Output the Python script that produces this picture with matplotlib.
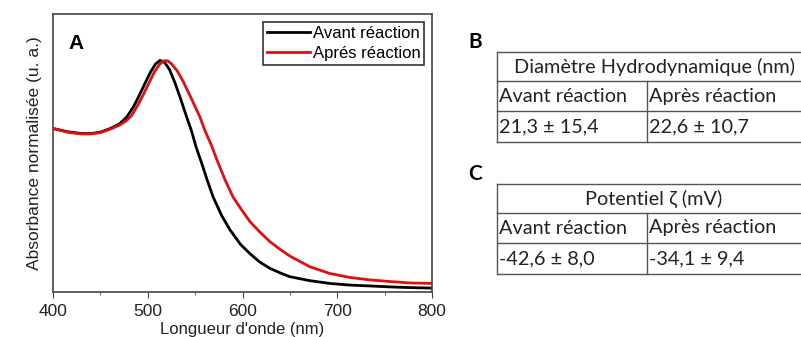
import matplotlib.pyplot as plt
from matplotlib.lines import Line2D

# UV-vis spectra (normalised)
wl_avant = [400, 415, 430, 440, 450, 460, 470, 478, 485, 490, 497, 503, 508, 513, 518, 523, 529, 535,
            541, 546, 551, 557, 563, 569, 578, 587, 598, 608, 618, 629, 640, 650, 671, 692, 713, 735,
            756, 777, 800]
abs_avant = [0.706, 0.692, 0.684, 0.684, 0.69, 0.705, 0.725, 0.756, 0.8, 0.84, 0.9, 0.95, 0.983, 1.0,
             0.99, 0.96, 0.9, 0.83, 0.756, 0.698, 0.626, 0.555, 0.48, 0.41, 0.33, 0.267, 0.205, 0.165,
             0.13, 0.102, 0.082, 0.066, 0.049, 0.037, 0.03, 0.026, 0.022, 0.019, 0.017]

wl_apres = [400, 415, 430, 440, 450, 460, 470, 477, 483, 490, 495, 501, 507, 513, 517, 521, 525, 531,
            537, 546, 555, 560, 567, 574, 582, 590, 599, 608, 618, 629, 640, 650, 671, 692, 713, 735,
            756, 777, 800]
abs_apres = [0.706, 0.69, 0.682, 0.682, 0.688, 0.702, 0.72, 0.738, 0.762, 0.81, 0.85, 0.9, 0.95, 0.985,
             0.998, 0.998, 0.985, 0.955, 0.912, 0.835, 0.756, 0.7, 0.635, 0.56, 0.48, 0.41, 0.355, 0.303,
             0.26, 0.217, 0.183, 0.155, 0.109, 0.08, 0.063, 0.052, 0.045, 0.039, 0.037]

labels = ["Avant réaction", "Aprés réaction"]

titre_b = "Diamètre Hydrodynamique (nm)"
valeurs_b = ["21,3 ± 15,4", "22,6 ± 10,7"]
titre_c = "Potentiel ζ (mV)"
valeurs_c = ["-42,6 ± 8,0", "-34,1 ± 9,4"]
entetes = ["Avant réaction", "Après réaction"]

plt.rcParams["font.family"] = ["Liberation Sans", "DejaVu Sans"]

fig = plt.figure(figsize=(8.01, 3.37), dpi=100)
ax = fig.add_axes([53 / 801, 1 - 292 / 337, 379 / 801, 278 / 337])

ax.plot(wl_avant, abs_avant, color="black", lw=2, label=labels[0])
ax.plot(wl_apres, abs_apres, color="#e01010", lw=2, label=labels[1])
ax.set_xlim(400, 800)
ax.set_ylim(0, 1.2)
ax.set_yticks([])
ax.set_xticks([400, 500, 600, 700, 800])
ax.set_xticks([450, 550, 650, 750], minor=True)
ax.tick_params(axis="x", which="major", length=4, color="#444", labelsize=12.5,
               labelcolor="#222", pad=5)
ax.tick_params(axis="x", which="minor", length=2, color="#444")
for s in ax.spines.values():
    s.set_color("#444")
    s.set_linewidth(1.2)
ax.set_xlabel("Longueur d'onde (nm)", fontsize=12, color="#222", labelpad=2)
ax.set_ylabel("Absorbance normalisée (u. a.)", fontsize=12.5, color="#222", labelpad=8)
ax.text(0.04, 0.875, "A", transform=ax.transAxes, fontsize=15, fontweight="bold")
leg = ax.legend(loc="upper right", bbox_to_anchor=(0.98, 0.972), fontsize=12, frameon=True,
                fancybox=False, edgecolor="black", handlelength=2.6, handletextpad=0.15,
                borderpad=0.25, labelspacing=0.3, borderaxespad=0)
leg.get_frame().set_linewidth(1.2)


def fx(px):
    return px / 801


def fy(py):
    return 1 - py / 337


def tableau(lettre, y0, titre, valeurs):
    # y0: top line of the table in pixels
    rows = [y0, y0 + 29, y0 + 59, y0 + 90]
    fig.text(fx(468), fy(y0 - 10), lettre, fontsize=15, fontweight="bold", family="Lato",
             va="center", ha="left")
    for r in rows:
        fig.add_artist(Line2D([fx(497), 1.01], [fy(r), fy(r)], color="#555", lw=1))
    fig.add_artist(Line2D([fx(497), fx(497)], [fy(rows[0]), fy(rows[3])], color="#555", lw=1))
    fig.add_artist(Line2D([fx(647), fx(647)], [fy(rows[1]), fy(rows[3])], color="#555", lw=1))
    fig.text(fx(654), fy((rows[0] + rows[1]) / 2), titre, fontsize=14.3, family="Lato",
             ha="center", va="center", color="#222")
    for i, h in enumerate(entetes):
        fig.text(fx(499 + 150 * i), fy((rows[1] + rows[2]) / 2), h, fontsize=14.3,
                 family="Lato", ha="left", va="center", color="#222")
        fig.text(fx(499 + 150 * i), fy((rows[2] + rows[3]) / 2), valeurs[i], fontsize=14.3,
                 family="Lato", ha="left", va="center", color="#222")


tableau("B", 52, titre_b, valeurs_b)
tableau("C", 184, titre_c, valeurs_c)

fig.savefig("out.png", dpi=100)
